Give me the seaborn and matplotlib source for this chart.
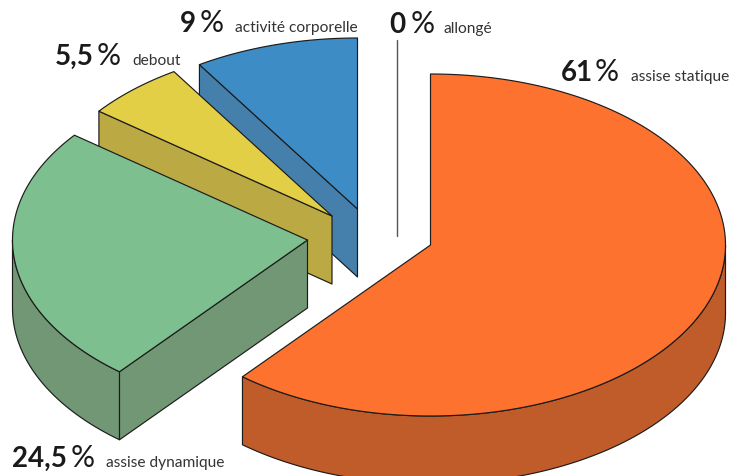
import numpy as np
import matplotlib
matplotlib.use("Agg")
import matplotlib.pyplot as plt
import seaborn as sns

categories = ["assise statique", "assise dynamique", "debout", "activité corporelle", "allongé"]
values = [61, 24.5, 5.5, 9, 0]
top_colors = ["#FC722E", "#7DBF8E", "#E2CF45", "#3E8CC6", "#555555"]
wall_colors = ["#C05C29", "#729775", "#BBAA43", "#457FAB", "#555555"]

# layout, in pixels of the figure
centers = [(430.5, 246), (307.5, 241), (332, 217), (357.5, 210), (397, 236.5)]
RX, RY, DEPTH = 295, 171, 68
ZERO_LEN = 196
EDGE = "#1c1c1c"
LW = 0.85
num_pos = [(561, 81), (12, 467), (55, 65), (180, 32), (389, 33)]
pct_pos = [(595, 81), (71, 467), (97, 65), (200, 32), (411, 33)]
lab_pos = [(631, 81), (106, 467), (132, 65), (235, 32), (444, 33)]
NUM_SIZE, PCT_SIZE, LAB_SIZE = 20, 21.5, 11.2

sns.set_theme(style="white", rc={"figure.facecolor": "white", "axes.facecolor": "white"})
plt.rcParams["font.family"] = ["Lato", "DejaVu Sans"]
top_pal = sns.color_palette(top_colors)
wall_pal = sns.color_palette(wall_colors)

fig = plt.figure(figsize=(7.31, 4.77), dpi=100)
ax = fig.add_axes([0, 0, 1, 1])
ax.set_xlim(0, 731)
ax.set_ylim(477, 0)
ax.axis("off")


def pt(c, a, dz=0.0):
    return c[0] + RX * np.sin(a), c[1] - RY * np.cos(a) + dz


def poly(xs, ys, color, z, edge=True):
    ax.fill(xs, ys, facecolor=color, edgecolor=EDGE if edge else "none",
            linewidth=LW, joinstyle="round", zorder=z)


angles = np.radians(np.cumsum([0] + values) / sum(values) * 360)
order = [3, 2, 1, 0]   # back to front
for rank, i in enumerate(order):
    a0, a1 = angles[i], angles[i + 1]
    c = centers[i]
    z = 2 + rank * 3
    # radial wall facing the viewer, on the wedges that show one
    if i in (1, 2, 3):
        x0, y0 = pt(c, a0)
        poly([x0, c[0], c[0], x0], [y0, c[1], c[1] + DEPTH, y0 + DEPTH], wall_pal[i], z)
    # outer rim wall, on the front half of the ellipse only
    lo, hi = max(a0, np.pi / 2), min(a1, 3 * np.pi / 2)
    if hi > lo:
        t = np.linspace(lo, hi, 160)
        xt, yt = pt(c, t)
        xb, yb = pt(c, t, DEPTH)
        poly(np.r_[xt, xb[::-1]], np.r_[yt, yb[::-1]], wall_pal[i], z + 1)
    # top face
    t = np.linspace(a0, a1, 240)
    xt, yt = pt(c, t)
    poly(np.r_[c[0], xt], np.r_[c[1], yt], top_pal[i], z + 2)

# the 0 % share is a bare line
c = centers[4]
ax.plot([c[0], c[0]], [c[1], c[1] - ZERO_LEN], color=top_pal[4], lw=1.0, zorder=20)

for i, (cat, v) in enumerate(zip(categories, values)):
    num = f"{v:g}".replace(".", ",")
    ax.text(*num_pos[i], num, fontsize=NUM_SIZE, fontweight="bold", color="#1a1a1a",
            ha="left", va="baseline", zorder=30)
    ax.text(*pct_pos[i], "%", fontsize=PCT_SIZE, color="#1a1a1a", ha="left", va="baseline", zorder=30)
    ax.text(*lab_pos[i], cat, fontsize=LAB_SIZE, color="#333333", ha="left", va="baseline", zorder=30)

fig.savefig("out.png", dpi=100, facecolor="white")
